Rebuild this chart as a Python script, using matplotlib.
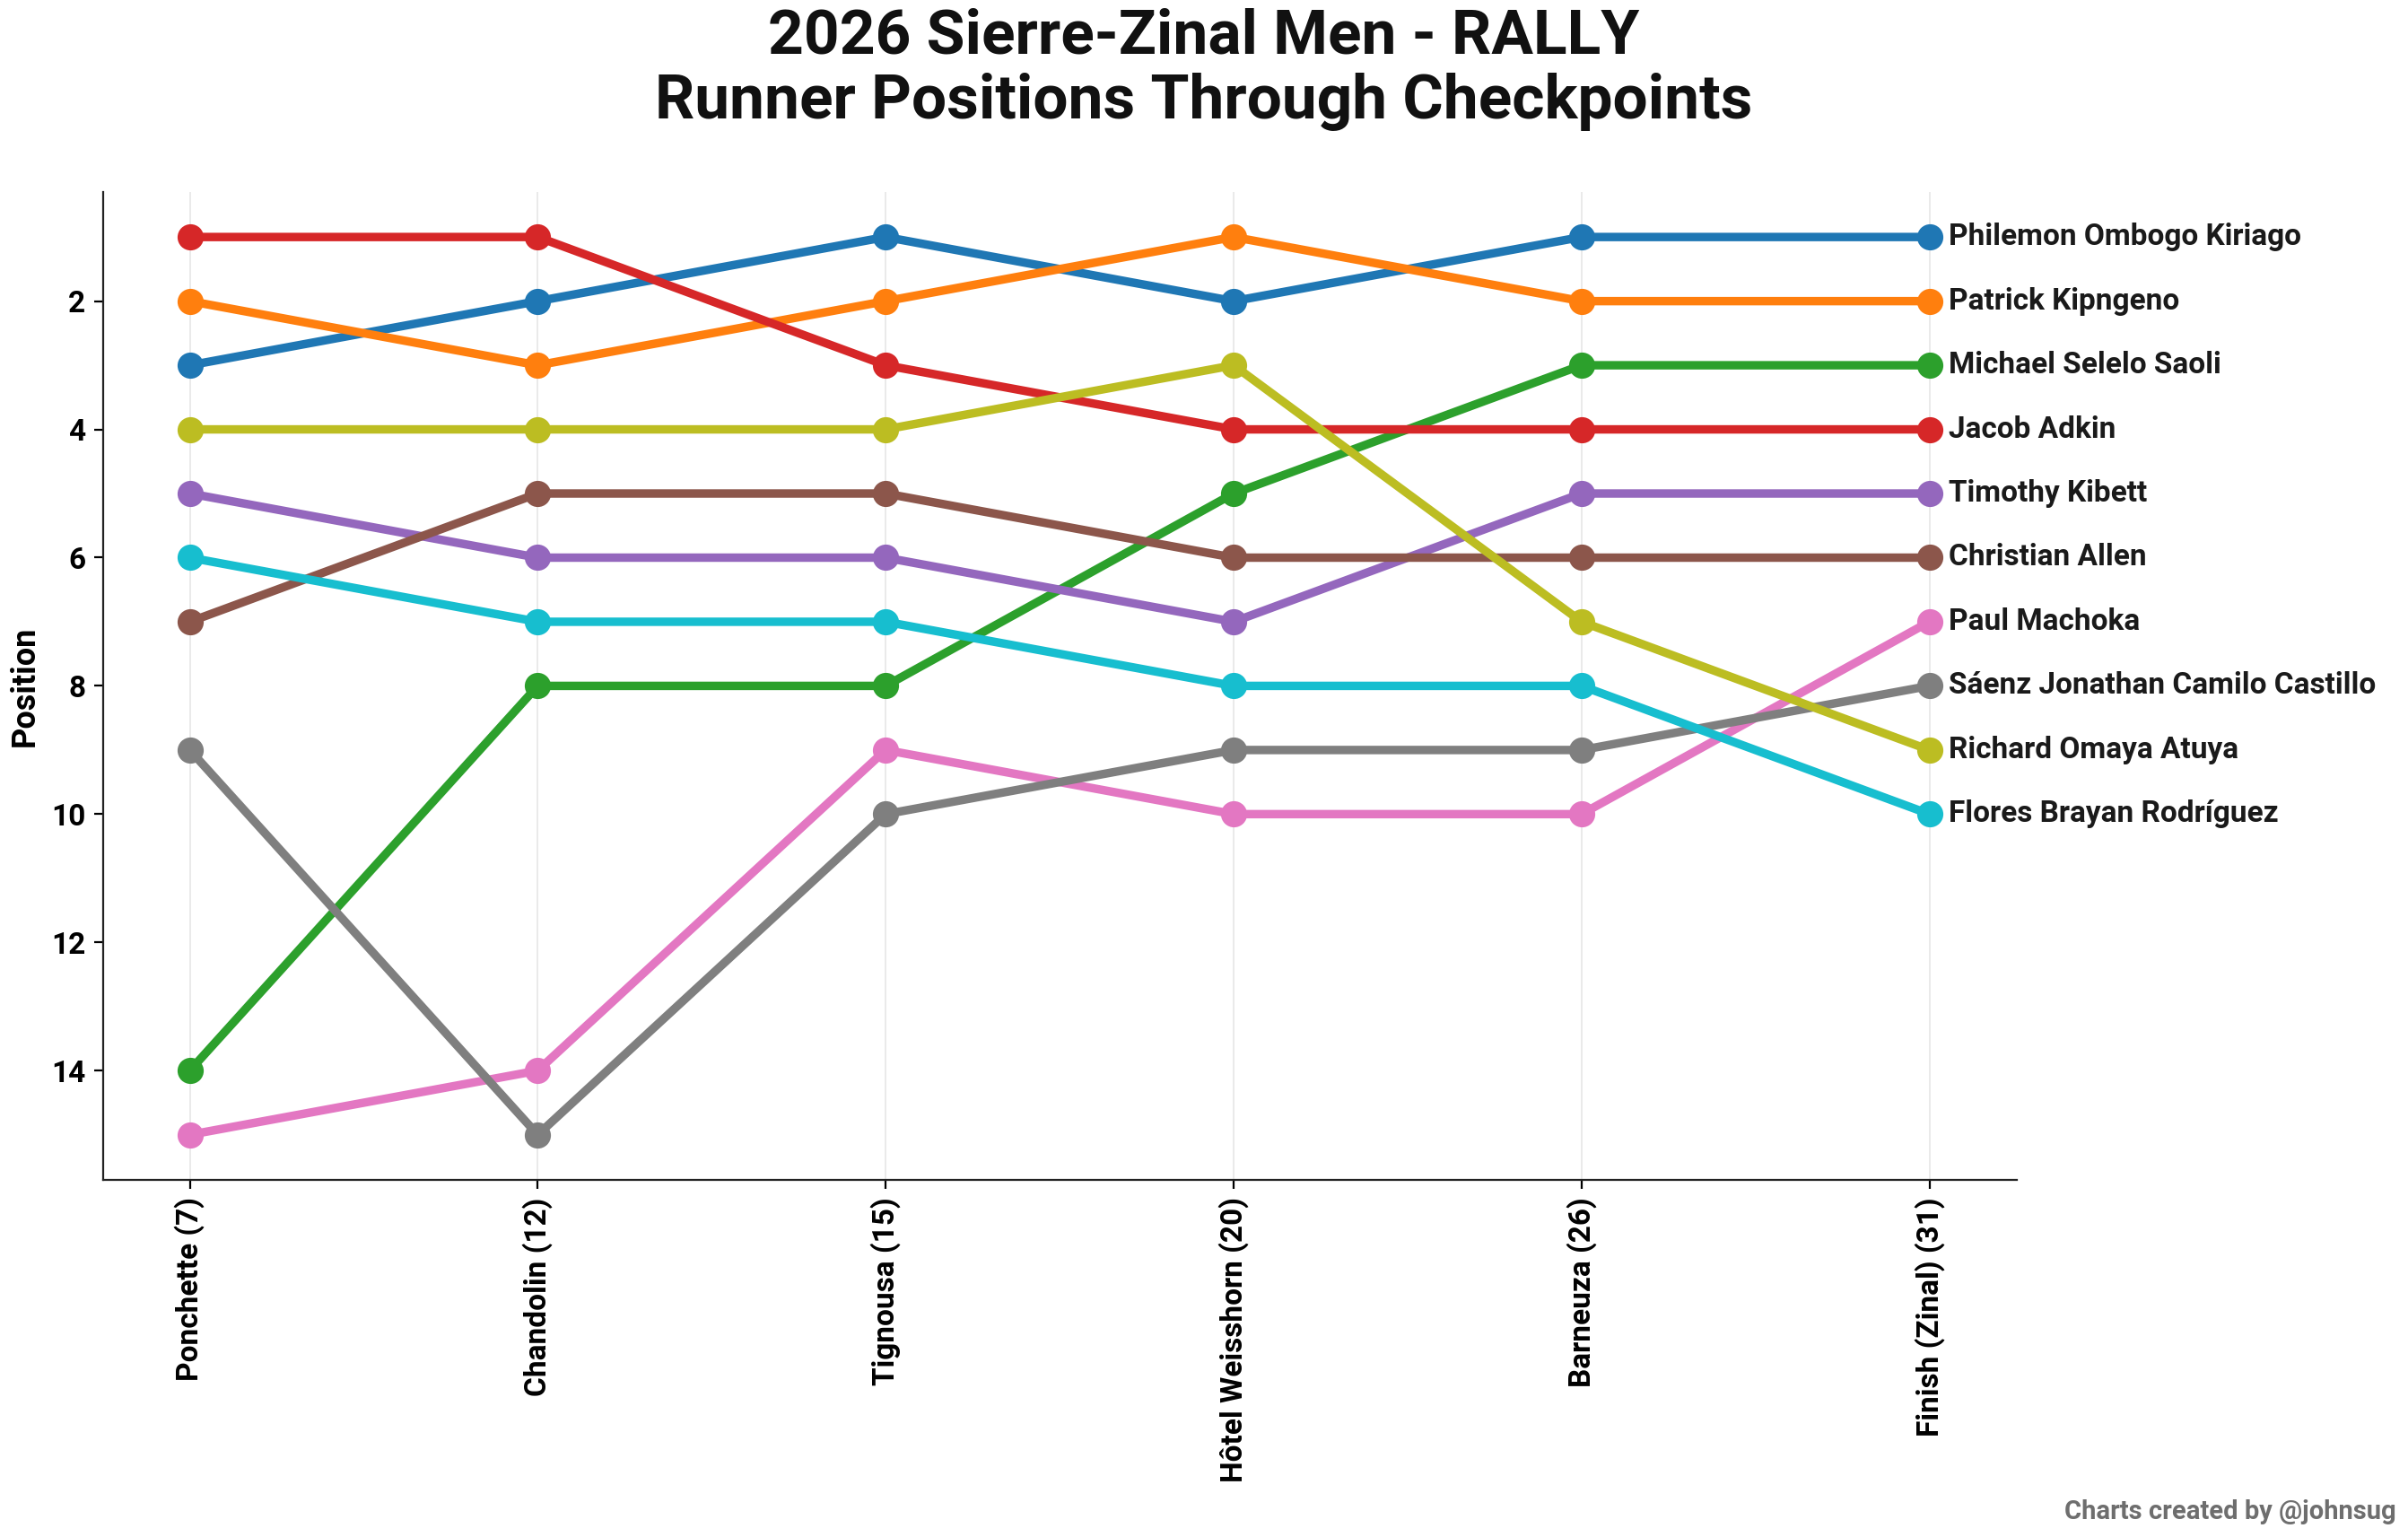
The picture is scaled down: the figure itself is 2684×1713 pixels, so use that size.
import matplotlib
matplotlib.use("Agg")
import matplotlib.pyplot as plt

checkpoints = ["Ponchette (7)", "Chandolin (12)", "Tignousa (15)",
               "Hôtel Weisshorn (20)", "Barneuza (26)", "Finish (Zinal) (31)"]

runners = ["Philemon Ombogo Kiriago", "Patrick Kipngeno", "Michael Selelo Saoli",
           "Jacob Adkin", "Timothy Kibett", "Christian Allen", "Paul Machoka",
           "Sáenz Jonathan Camilo Castillo", "Richard Omaya Atuya",
           "Flores Brayan Rodríguez"]

kiriago = [3, 2, 1, 2, 1, 1]
kipngeno = [2, 3, 2, 1, 2, 2]
saoli = [14, 8, 8, 5, 3, 3]
adkin = [1, 1, 3, 4, 4, 4]
kibett = [5, 6, 6, 7, 5, 5]
allen = [7, 5, 5, 6, 6, 6]
machoka = [15, 14, 9, 10, 10, 7]
castillo = [9, 15, 10, 9, 9, 8]
atuya = [4, 4, 4, 3, 7, 9]
rodriguez = [6, 7, 7, 8, 8, 10]

positions = [kiriago, kipngeno, saoli, adkin, kibett, allen, machoka,
             castillo, atuya, rodriguez]

colors = ["#1f77b4", "#ff7f0e", "#2ca02c", "#d62728", "#9467bd", "#8c564b",
          "#e377c2", "#7f7f7f", "#bcbd22", "#17becf"]

FONT = ["Roboto", "DejaVu Sans"]
plt.rcParams["font.family"] = FONT

fig = plt.figure(figsize=(13.42, 8.565), dpi=200)
ax = fig.add_axes([0.0427, 0.2325, 0.7947, 0.6425])

x = list(range(len(checkpoints)))
for name, pos, c in zip(runners, positions, colors):
    ax.plot(x, pos, color=c, lw=3.4, marker="o", markersize=9.5, zorder=3)
    ax.text(x[-1] + 0.055, pos[-1], name, va="center", ha="left",
            fontsize=12, fontweight="bold", color="#1a1a1a")

ax.invert_yaxis()
ax.set_xticks(x)
ax.set_xticklabels(checkpoints, rotation=90, fontsize=12, fontweight="bold")
ax.set_yticks([2, 4, 6, 8, 10, 12, 14])
ax.tick_params(axis="y", labelsize=12)
for lbl in ax.get_yticklabels():
    lbl.set_fontweight("bold")
ax.set_ylabel("Position", fontsize=13, fontweight="bold")
ax.grid(axis="x", color="#e6e6e6", lw=0.6)
ax.set_axisbelow(True)
ax.spines["top"].set_visible(False)
ax.spines["right"].set_visible(False)
ax.spines["left"].set_color("#222222")
ax.spines["bottom"].set_color("#222222")

fig.suptitle("2026 Sierre-Zinal Men - RALLY\nRunner Positions Through Checkpoints",
             x=0.5, y=0.995, fontsize=25, fontweight="bold", color="#111111",
             linespacing=1.15)

fig.text(0.995, 0.008, "Charts created by @johnsug", ha="right", va="bottom",
         fontsize=10.5, fontweight="bold", color="#6e6e6e")

fig.savefig("out.png", dpi=200)
